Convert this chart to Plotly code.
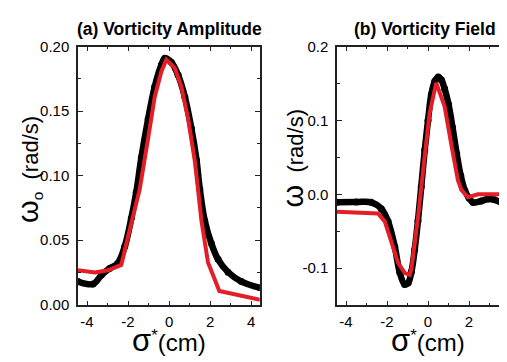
import plotly.graph_objects as go

# ---------------- data ----------------
# Panel (a): vorticity amplitude
sigma_a_exp = [-4.44, -3.7, -3.3, -2.9, -2.5, -2.16, -1.84, -1.6, -1.35, -1.02, -0.7, -0.37,
               -0.21, 0.11, 0.44, 0.77, 1.09, 1.34, 1.5, 1.74, 2.06, 2.39, 2.88, 3.53, 4.44]
omega_a_exp = [0.0178, 0.0159, 0.0228, 0.028, 0.032, 0.045, 0.067, 0.087, 0.114, 0.144, 0.169, 0.186,
               0.191, 0.188, 0.178, 0.161, 0.1365, 0.112, 0.0895, 0.065, 0.0475, 0.035, 0.025, 0.0178, 0.0129]
sigma_a_fit = [-4.44, -3.62, -2.98, -2.33, -2.0, -1.67, -1.43, -1.02, -0.7, -0.37, -0.13, 0.28,
               0.6, 0.93, 1.25, 1.41, 1.58, 1.9, 2.45, 3.53, 4.44]
omega_a_fit = [0.0265, 0.0248, 0.0265, 0.0307, 0.0525, 0.0747, 0.0895, 0.129, 0.161, 0.181, 0.19, 0.1835,
               0.169, 0.144, 0.112, 0.0895, 0.065, 0.0326, 0.0104, 0.0067, 0.0037]

# Panel (b): vorticity field
sigma_b_exp = [-4.44, -3.5, -2.77, -2.28, -1.95, -1.62, -1.38, -1.14, -0.97, -0.81, -0.65, -0.49,
               -0.33, -0.16, 0.0, 0.16, 0.33, 0.5, 0.65, 0.81, 1.0, 1.2, 1.4, 1.6, 1.8, 2.0,
               2.2, 2.6, 2.93, 3.25, 3.6, 4.0, 4.3]
omega_b_exp = [-0.0108, -0.0105, -0.0108, -0.0194, -0.0366, -0.071, -0.1057, -0.122, -0.12, -0.105, -0.075, -0.036,
               0.01, 0.06, 0.1, 0.135, 0.153, 0.159, 0.155, 0.143, 0.122, 0.09, 0.055, 0.025, 0.005, -0.005,
               -0.011, -0.009, -0.0065, -0.0075, -0.011, -0.013, -0.013]
sigma_b_fit = [-4.44, -2.44, -2.11, -1.79, -1.46, -1.14, -0.89, -0.81, -0.65, -0.49, -0.24, 0.08,
               0.4, 0.81, 1.14, 1.46, 1.63, 1.95, 2.44, 3.09, 4.3]
omega_b_fit = [-0.0237, -0.0259, -0.0366, -0.0625, -0.0927, -0.1065, -0.109, -0.101, -0.07, -0.032, 0.032, 0.11,
               0.151, 0.119, 0.067, 0.019, 0.006, -0.004, 0.0, 0.0, 0.0]

x_tickvals = [-4, -2, 0, 2, 4]
x_ticktext = ["-4", "-2", "0", "2", "4"]
ya_tickvals = [0.0, 0.05, 0.10, 0.15, 0.20]
ya_ticktext = ["0.00", "0.05", "0.10", "0.15", "0.20"]
yb_tickvals = [-0.1, 0.0, 0.1, 0.2]
yb_ticktext = ["-0.1", "0.0", "0.1", "0.2"]

# ---------------- figure ----------------
W, H = 507, 362
BLACK = "#000000"
RED = "#e41e26"
FONT = "Arial, Liberation Sans, sans-serif"

fig = go.Figure()

exp_style = dict(mode="lines+markers", line=dict(color=BLACK, width=6.5, shape="spline"),
                 marker=dict(color=BLACK, size=7), showlegend=False, hoverinfo="skip")
fit_style = dict(mode="lines", line=dict(color=RED, width=4), showlegend=False, hoverinfo="skip")

fig.add_trace(go.Scatter(x=sigma_a_exp, y=omega_a_exp, xaxis="x", yaxis="y", **exp_style))
fig.add_trace(go.Scatter(x=sigma_a_fit, y=omega_a_fit, xaxis="x", yaxis="y", **fit_style))
fig.add_trace(go.Scatter(x=sigma_b_exp, y=omega_b_exp, xaxis="x2", yaxis="y2", **exp_style))
fig.add_trace(go.Scatter(x=sigma_b_fit, y=omega_b_fit, xaxis="x2", yaxis="y2", **fit_style))

def px2x(p):
    return p / W

def px2y(p):
    return 1 - p / H

ydom = [px2y(301.7), px2y(31)]

axis_common = dict(showline=True, linecolor="#222222", linewidth=1.5, ticks="inside",
                   ticklen=5, tickwidth=1.2, tickcolor="#222222", showgrid=False, zeroline=False,
                   tickfont=dict(family=FONT, size=15, color="#000000"))
minor_common = dict(ticks="inside", ticklen=3, tickwidth=1.2, tickcolor="#222222")

fig.update_layout(
    width=W, height=H, margin=dict(l=0, r=0, t=0, b=0),
    paper_bgcolor="white", plot_bgcolor="white",
    xaxis=dict(domain=[px2x(70), px2x(251.7)], range=[-4.44, 4.42], anchor="y",
               tickvals=x_tickvals, ticktext=x_ticktext, mirror="ticks", ticklabelstandoff=2,
               minor=dict(dtick=1, tick0=0, **minor_common), **axis_common),
    yaxis=dict(domain=ydom, range=[-0.0007, 0.2001], anchor="x",
               tickvals=ya_tickvals, ticktext=ya_ticktext, mirror="ticks", ticklabelstandoff=4,
               minor=dict(dtick=0.025, tick0=0, **minor_common), **axis_common),
    xaxis2=dict(domain=[px2x(329), 1.0], range=[-4.44, 4.244], anchor="y2",
                tickvals=x_tickvals, ticktext=x_ticktext, mirror="ticks", ticklabelstandoff=2,
                minor=dict(dtick=1, tick0=0, **minor_common), **axis_common),
    yaxis2=dict(domain=ydom, range=[-0.1504, 0.2], anchor="x2",
                tickvals=yb_tickvals, ticktext=yb_ticktext, mirror=False, ticklabelstandoff=4,
                minor=dict(dtick=0.05, tick0=0, **minor_common), **axis_common),
)

ann = []
# panel titles
ann.append(dict(text="<b>(a) Vorticity Amplitude</b>", x=px2x(161), y=px2y(13), xref="paper", yref="paper",
                showarrow=False, font=dict(family=FONT, size=17.5, color="black"), xanchor="center", yanchor="middle"))
ann.append(dict(text="<b>(b) Vorticity Field</b>", x=px2x(417), y=px2y(13), xref="paper", yref="paper",
                showarrow=False, font=dict(family=FONT, size=17.5, color="black"), xanchor="center", yanchor="middle"))
# x titles
for cx in (161, 420):
    ann.append(dict(text="<span style='font-size:31px'>σ</span><sup>*</sup>(cm)", x=px2x(cx), y=px2y(338),
                    xref="paper", yref="paper", showarrow=False, xanchor="center", yanchor="middle",
                    font=dict(family=FONT, size=24, color="black")))
# y titles
ann.append(dict(text="<span style='font-size:29px'>ω</span><sub>o</sub>  (rad/s)", x=px2x(21), y=px2y(160),
                xref="paper", yref="paper", showarrow=False, textangle=-90, xanchor="center", yanchor="middle",
                font=dict(family=FONT, size=22, color="black")))
ann.append(dict(text="<span style='font-size:29px'>ω</span>  (rad/s)", x=px2x(285), y=px2y(148),
                xref="paper", yref="paper", showarrow=False, textangle=-90, xanchor="center", yanchor="middle",
                font=dict(family=FONT, size=22, color="black")))
fig.update_layout(annotations=ann)

fig.write_html("out.html")
